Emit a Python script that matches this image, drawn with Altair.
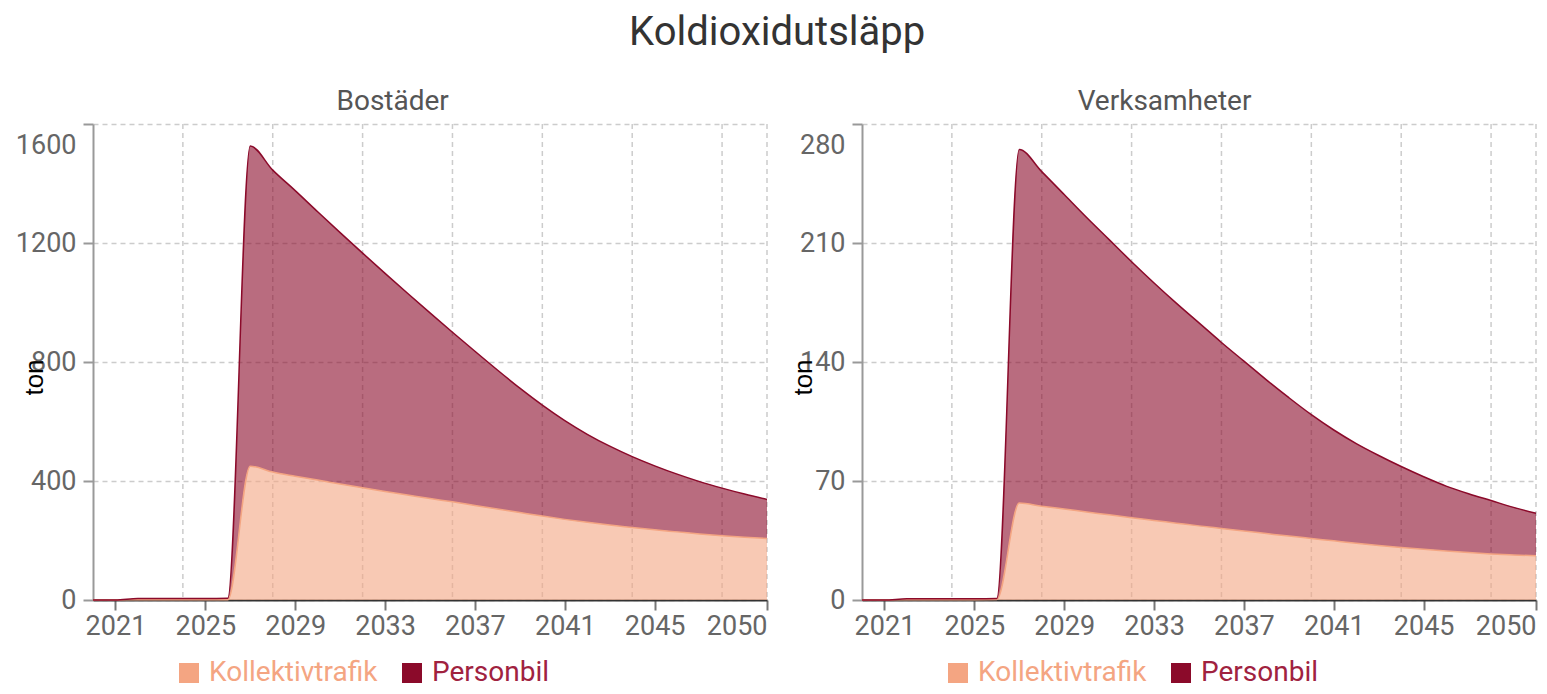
import altair as alt
import pandas as pd

YEARS = list(range(2020, 2051))

# Bostäder (ton)
BOST_KOLL = [0, 0, 1, 1, 1, 1, 1,
             450, 430, 416, 403, 390, 377, 365, 353, 341, 330, 318, 306, 294,
             282, 271, 261, 252, 244, 236, 229, 222, 216, 211, 207]
BOST_BIL = [0, 0, 4, 4, 4, 4, 5,
            1076, 1015, 960, 902, 845, 789, 733, 678, 624, 570, 518, 467, 418,
            373, 332, 296, 265, 238, 215, 194, 176, 160, 145, 131]

# Verksamheter (ton)
VERK_KOLL = [0, 0, 0.2, 0.2, 0.2, 0.2, 0.3,
             57, 55.2, 53.5, 51.8, 50.1, 48.4, 46.8, 45.2, 43.6, 42.1, 40.6, 39.1, 37.6,
             36.2, 34.8, 33.4, 32.1, 30.9, 29.8, 28.8, 27.9, 27.1, 26.5, 26]
VERK_BIL = [0, 0, 0.5, 0.5, 0.5, 0.5, 0.6,
            208, 196.8, 185, 173.2, 161.9, 150.6, 139.7, 129.3, 119.4, 109.4, 99.9, 90.4, 81.4,
            72.8, 65.2, 58.6, 52.9, 47.6, 42.7, 38.2, 34.6, 31.4, 28, 25]

SERIES = ["Kollektivtrafik", "Personbil"]
COLORS = ["#f4a582", "#8b0a2a"]
X_TICKS = [2021, 2025, 2029, 2033, 2037, 2041, 2045, 2050]
GRID_YEARS = [2024, 2028, 2032, 2036, 2040, 2044, 2048, 2050]
BOST_TICKS = [0, 400, 800, 1200, 1600]
VERK_TICKS = [0, 70, 140, 210, 280]

FONT = "Roboto"


def make_df(koll, bil):
    rows = []
    for y, k, b in zip(YEARS, koll, bil):
        rows.append({"year": y, "serie": SERIES[0], "value": k})
        rows.append({"year": y, "serie": SERIES[1], "value": b})
    return pd.DataFrame(rows)


def panel(title, koll, bil, ticks):
    df = make_df(koll, bil)
    top = ticks[-1]
    xscale = alt.Scale(domain=[2020, 2050], nice=False, zero=False)
    xaxis = alt.Axis(values=X_TICKS, format="d", grid=False,
                     labelFlush=True, labelFontSize=27, labelFont=FONT,
                     labelColor="#666666", labelPadding=3,
                     tickSize=10, tickColor="#777777", tickWidth=2,
                     domainColor="#333333", domainWidth=2)
    grid = alt.Chart(pd.DataFrame({"year": GRID_YEARS})).mark_rule(
        color="#cccccc", strokeDash=[5, 4], strokeWidth=1.5
    ).encode(x=alt.X("year:Q", scale=xscale, title=None, axis=xaxis))

    area = alt.Chart(df).mark_area(
        interpolate="monotone", fillOpacity=0.6,
        line={"strokeWidth": 1.5}
    ).encode(
        x=alt.X("year:Q", scale=xscale, title=None, axis=xaxis),
        y=alt.Y("value:Q", stack="zero",
                scale=alt.Scale(domain=[0, top], nice=False),
                axis=alt.Axis(values=ticks, format="d", grid=True, gridDash=[5, 4],
                              gridColor="#cccccc", gridWidth=1.5,
                              domainColor="#999999", domainWidth=2,
                              tickColor="#999999", tickWidth=2, tickSize=10,
                              labelFontSize=27, labelFont=FONT, labelColor="#666666",
                              labelPadding=7,
                              labelBaseline=alt.ExprRef(expr=f"datum.value == {top} ? 'top' : 'middle'"),
                              labelOffset=alt.ExprRef(expr=f"datum.value == {top} ? 8 : 0"),
                              title="ton", titleFont="Liberation Sans", titleFontSize=26,
                              titleFontWeight="normal", titleColor="#000000",
                              titleAngle=270, titleX=-59, titleY=253,
                              titleAlign="center", titleBaseline="middle")),
        color=alt.Color("serie:N",
                        scale=alt.Scale(domain=SERIES, range=COLORS),
                        legend=alt.Legend(title=None, orient="none",
                                          legendX=82, legendY=535,
                                          direction="horizontal",
                                          symbolType="square", symbolSize=400,
                                          symbolOpacity=1, symbolStrokeWidth=0,
                                          labelFontSize=28, labelFont=FONT,
                                          labelLimit=400,
                                          labelOffset=6, columnPadding=20,
                                          labelColor=alt.ExprRef(expr="datum.value == 'Kollektivtrafik' ? '#f4a582' : '#a0223f'"))),
        order=alt.Order("serie:N", sort="ascending"),
    )
    return alt.layer(grid, area).properties(
        width=674, height=476,
        title=alt.TitleParams(title, fontSize=28, font=FONT, color="#555555",
                              fontWeight="normal", anchor="middle", offset=7,
                              frame="bounds"),
    )


left = panel("Bostäder", BOST_KOLL, BOST_BIL, BOST_TICKS)
right = panel("Verksamheter", VERK_KOLL, VERK_BIL, VERK_TICKS)

chart = alt.hconcat(left, right, spacing=20).resolve_scale(
    y="independent", color="independent"
).properties(
    title=alt.TitleParams("Koldioxidutsläpp", fontSize=40, font=FONT,
                          color="#333333", fontWeight="normal",
                          anchor="middle", offset=35),
    padding={"left": 7, "top": 5, "right": 0, "bottom": 0},
).configure_view(stroke=None)

chart.save("out.html", embed_options={"renderer": "svg", "actions": False})
